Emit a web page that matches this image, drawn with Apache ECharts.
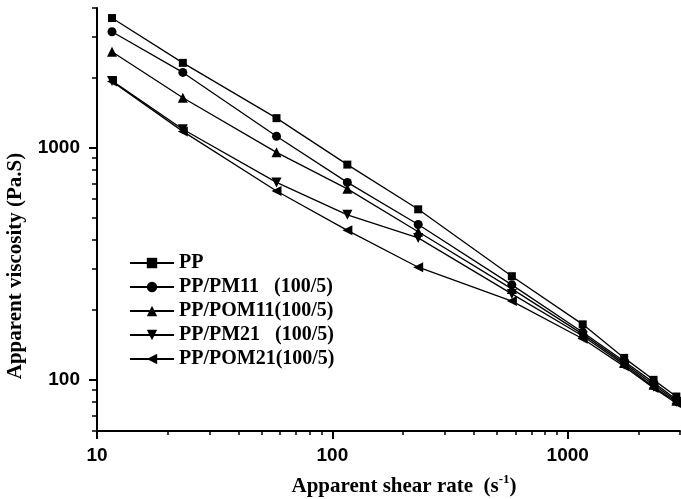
<!DOCTYPE html>
<html>
<head>
<meta charset="utf-8">
<script src="https://cdn.jsdelivr.net/npm/echarts@6/dist/echarts.min.js"></script>
<style>
	html, body { margin: 0; padding: 0; background: #fff; }
	#container { width: 681px; height: 499px; }
</style>
</head>
<body>
<div id="container"></div>
<script>
// shear rate (s-1) and apparent viscosity (Pa.S)
var shearRate = [11.58, 23.16, 57.9, 115.8, 231.6, 579, 1158, 1737, 2316, 2895];
var ppVisc    = [3620, 2320, 1340, 845, 542, 279, 173, 124, 99.7, 84.5];
var pm11Visc  = [3160, 2110, 1120, 708, 466, 256, 160, 120, 97, 82];
var pom11Visc = [2590, 1640, 954, 664, 434, 246, 157, 118, 95, 81];
var pm21Visc  = [1940, 1200, 708, 513, 408, 234, 154, 116, 93, 80];
var pom21Visc = [1930, 1175, 650, 440, 305, 218, 150, 114, 92, 79];

var seriesNames = ['PP', 'PP/PM11   (100/5)', 'PP/POM11(100/5)', 'PP/PM21   (100/5)', 'PP/POM21(100/5)'];

var xMajor = [10, 100, 1000];
var xMinor = [20, 30, 40, 50, 60, 70, 80, 90, 200, 300, 400, 500, 600, 700, 800, 900, 2000, 3000];
var yMajor = [100, 1000];
var yMinor = [60, 70, 80, 90, 200, 300, 400, 500, 600, 700, 800, 900, 2000, 3000, 4000];

function pairs(ys)
{
	var out = [];
	for (var i = 0; i < shearRate.length; i++) {
		out.push([shearRate[i], ys[i]]);
	}
	return out;
}

function makeSeries(name, ys, symbol, size, rotate)
{
	return {
		name: name,
		type: 'line',
		xAxisIndex: 0,
		yAxisIndex: 0,
		data: pairs(ys),
		symbol: symbol,
		symbolSize: size,
		symbolRotate: rotate,
		showAllSymbol: true,
		animation: false,
		lineStyle: { color: '#000', width: 1.3 },
		itemStyle: { color: '#000', borderWidth: 0 }
	};
}

var dom = document.getElementById("container");
var myChart = echarts.init(dom, null, { renderer: 'canvas' });

var labelFont = {
	fontFamily: 'Liberation Sans, Arial, sans-serif',
	fontWeight: 'bold',
	fontSize: 19,
	color: '#000',
	formatter: function (v) { return String(Math.round(v)); }
};

option = {
	backgroundColor: '#fff',
	animation: false,
	grid: { left: 97, top: 8, right: 1, bottom: 68, containLabel: false },
	legend: {
		orient: 'vertical',
		left: 124,
		top: 248,
		itemWidth: 44,
		itemHeight: 13,
		itemGap: 4,
		data: seriesNames,
		textStyle: {
			fontFamily: 'Liberation Serif, Times New Roman, serif',
			fontWeight: 'bold',
			fontSize: 20,
			color: '#000'
		}
	},
	xAxis: [
		{
			type: 'log', logBase: 10, min: 10, max: 3000,
			axisLine: { show: true, lineStyle: { color: '#000', width: 2 } },
			axisTick: { show: true, length: 8, customValues: xMajor, lineStyle: { color: '#000', width: 2 } },
			axisLabel: Object.assign({ margin: 15, customValues: xMajor }, labelFont),
			splitLine: { show: false }
		},
		{
			type: 'log', logBase: 10, min: 10, max: 3000, position: 'bottom',
			axisLine: { show: false },
			axisTick: { show: true, length: 4, customValues: xMinor, lineStyle: { color: '#000', width: 1.5 } },
			axisLabel: { show: false },
			splitLine: { show: false }
		}
	],
	yAxis: [
		{
			type: 'log', logBase: 10, min: 60, max: 4000,
			axisLine: { show: true, lineStyle: { color: '#000', width: 2 } },
			axisTick: { show: true, length: 8, customValues: yMajor, lineStyle: { color: '#000', width: 2 } },
			axisLabel: Object.assign({ margin: 17, customValues: yMajor }, labelFont),
			splitLine: { show: false }
		},
		{
			type: 'log', logBase: 10, min: 60, max: 4000, position: 'left',
			axisLine: { show: false },
			axisTick: { show: true, length: 5, customValues: yMinor, lineStyle: { color: '#000', width: 1.5 } },
			axisLabel: { show: false },
			splitLine: { show: false }
		}
	],
	graphic: [
		{
			type: 'text',
			x: 404,
			y: 485,
			style: {
				text: '{a|Apparent shear rate  (s}{s|-1}{a|)}',
				align: 'center',
				verticalAlign: 'middle',
				fill: '#000',
				rich: {
					a: { fontFamily: 'Liberation Serif, Times New Roman, serif', fontWeight: 'bold', fontSize: 21, lineHeight: 24, verticalAlign: 'bottom' },
					s: { fontFamily: 'Liberation Serif, Times New Roman, serif', fontWeight: 'bold', fontSize: 13, lineHeight: 13, verticalAlign: 'top' }
				}
			}
		},
		{
			type: 'text',
			x: 16,
			y: 266,
			rotation: Math.PI / 2,
			style: {
				text: 'Apparent viscosity (Pa.S)',
				align: 'center',
				verticalAlign: 'middle',
				fill: '#000',
				font: 'bold 21px "Liberation Serif", "Times New Roman", serif'
			}
		}
	],
	series: [
		makeSeries(seriesNames[0], ppVisc, 'rect', 8, 0),
		makeSeries(seriesNames[1], pm11Visc, 'circle', 9, 0),
		makeSeries(seriesNames[2], pom11Visc, 'triangle', 10, 0),
		makeSeries(seriesNames[3], pm21Visc, 'triangle', 10, 180),
		makeSeries(seriesNames[4], pom21Visc, 'triangle', 10, 90)
	]
};

if (option && typeof option === "object") {
	myChart.setOption(option, true);
}
</script>
</body>
</html>
